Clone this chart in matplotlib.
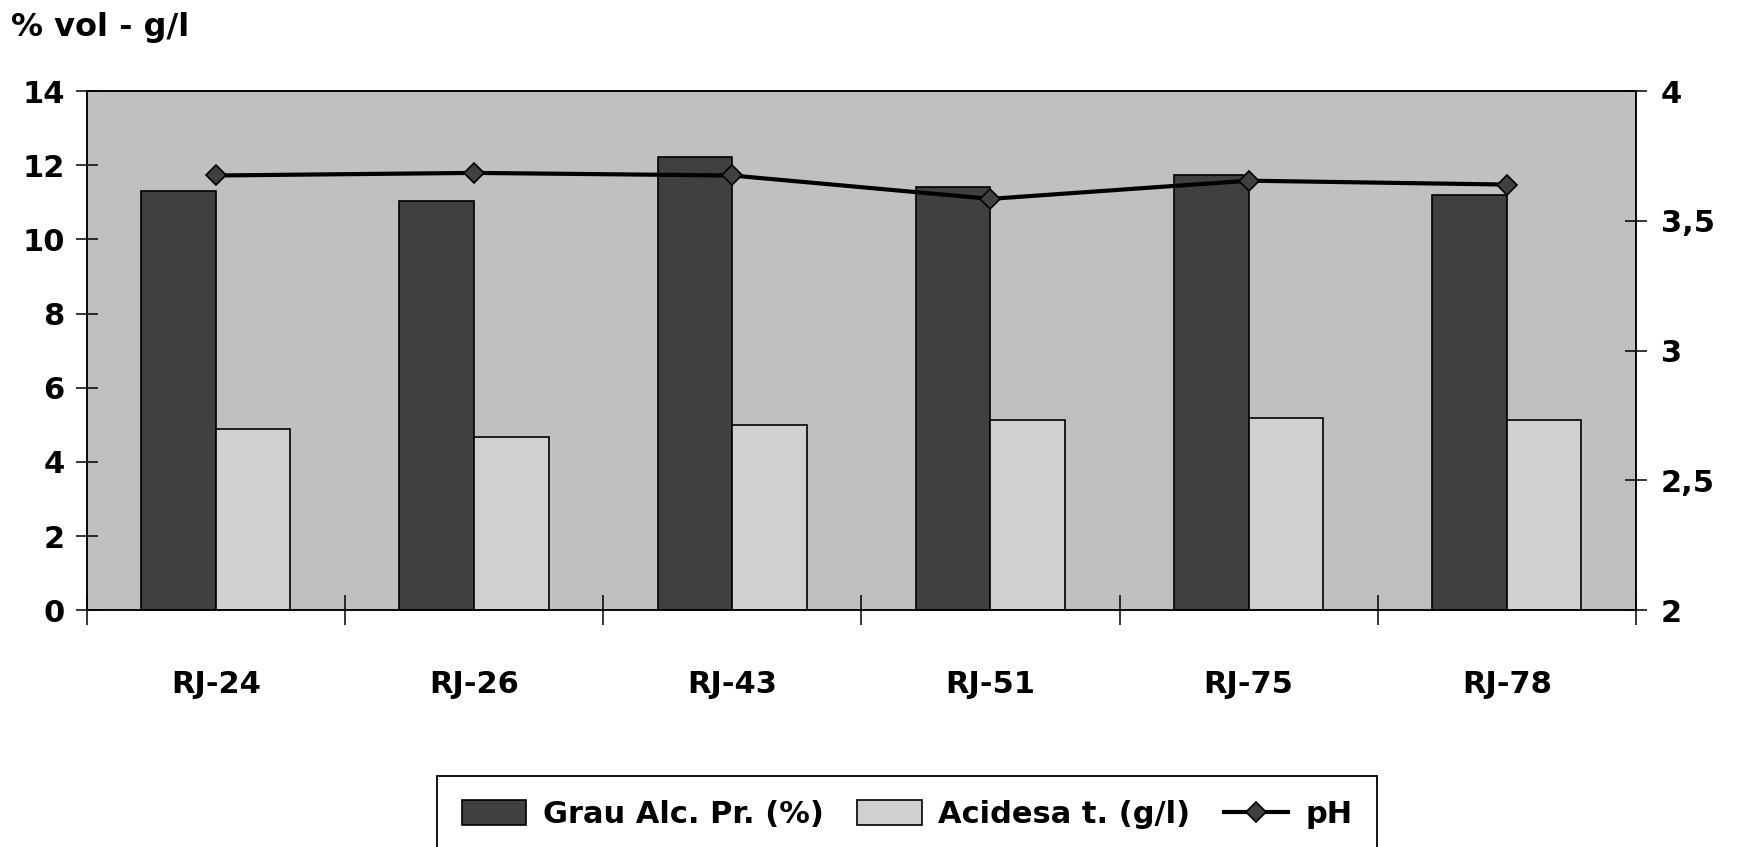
import matplotlib.pyplot as plt
import numpy as np

categories = ["RJ-24", "RJ-26", "RJ-43", "RJ-51", "RJ-75", "RJ-78"]
grau_alc = [11.3, 11.03, 12.23, 11.42, 11.75, 11.21]   # % vol
acidesa = [4.88, 4.68, 5.0, 5.13, 5.19, 5.13]          # g/l
ph = [3.675, 3.685, 3.675, 3.585, 3.655, 3.64]

left_ticks = [0, 2, 4, 6, 8, 10, 12, 14]
right_ticks = [2, 2.5, 3, 3.5, 4]
right_labels = ["2", "2,5", "3", "3,5", "4"]

DARK = "#404040"
LIGHT = "#d0d0d0"
BG = "#c0c0c0"
FS = 22

plt.rcParams['font.family'] = ['DejaVu Sans']
plt.rcParams['font.weight'] = 'bold'


def main():
    fig = plt.figure(figsize=(17.45, 8.47), dpi=100)
    ax = fig.add_axes([0.0497, 0.2795, 0.8878, 0.6129])
    ax.set_facecolor(BG)

    x = np.arange(len(categories))
    w = 0.289
    ax.bar(x - w, grau_alc, width=w, align='edge', color=DARK,
           edgecolor='black', linewidth=1.2, label="Grau Alc. Pr. (%)")
    ax.bar(x, acidesa, width=w, align='edge', color=LIGHT,
           edgecolor='black', linewidth=1.2, label="Acidesa t. (g/l)")

    ax.set_xlim(-0.5, len(categories) - 0.5)
    ax.set_ylim(0, 14)
    ax.set_yticks(left_ticks)
    ax.set_yticklabels([str(t) for t in left_ticks], fontsize=FS, fontweight='bold')

    # boundaries get the tick marks, centres get the labels
    ax.set_xticks(np.arange(-0.5, len(categories), 1))
    ax.set_xticklabels([])
    ax.set_xticks(x, minor=True)
    ax.set_xticklabels(categories, minor=True, fontsize=FS, fontweight='bold')
    ax.tick_params(axis='x', which='major', direction='inout', length=21, width=1.1)
    ax.tick_params(axis='x', which='minor', length=0, pad=43)
    ax.tick_params(axis='y', direction='inout', length=16, width=1.1, pad=8)

    ax2 = ax.twinx()
    ax2.plot(x, ph, color='black', linewidth=3, marker='D', markersize=10,
             markerfacecolor=DARK, markeredgecolor='black', markeredgewidth=1.2,
             label="pH")
    ax2.set_ylim(2, 4)
    ax2.set_yticks(right_ticks)
    ax2.set_yticklabels(right_labels, fontsize=FS, fontweight='bold')
    ax2.tick_params(axis='y', direction='inout', length=16, width=1.1, pad=10)

    for a in (ax, ax2):
        for s in a.spines.values():
            s.set_color('black')
            s.set_linewidth(1.1)

    fig.text(0.0064, 0.967, "% vol - g/l", fontsize=23, fontweight='bold',
             va='center', ha='left')

    h1, l1 = ax.get_legend_handles_labels()
    h2, l2 = ax2.get_legend_handles_labels()
    leg = fig.legend(h1 + h2, l1 + l2, loc='upper center',
                     bbox_to_anchor=(0.5198, 0.0841), ncol=3,
                     prop={'size': FS, 'weight': 'bold'},
                     frameon=True, fancybox=False, framealpha=1,
                     edgecolor='black', handlelength=2.1, handleheight=0.87,
                     handletextpad=0.55, columnspacing=1.1, borderpad=0.8,
                     borderaxespad=0)
    leg.get_frame().set_linewidth(1.3)

    fig.savefig("out.png", dpi=100)


if __name__ == "__main__":
    main()
